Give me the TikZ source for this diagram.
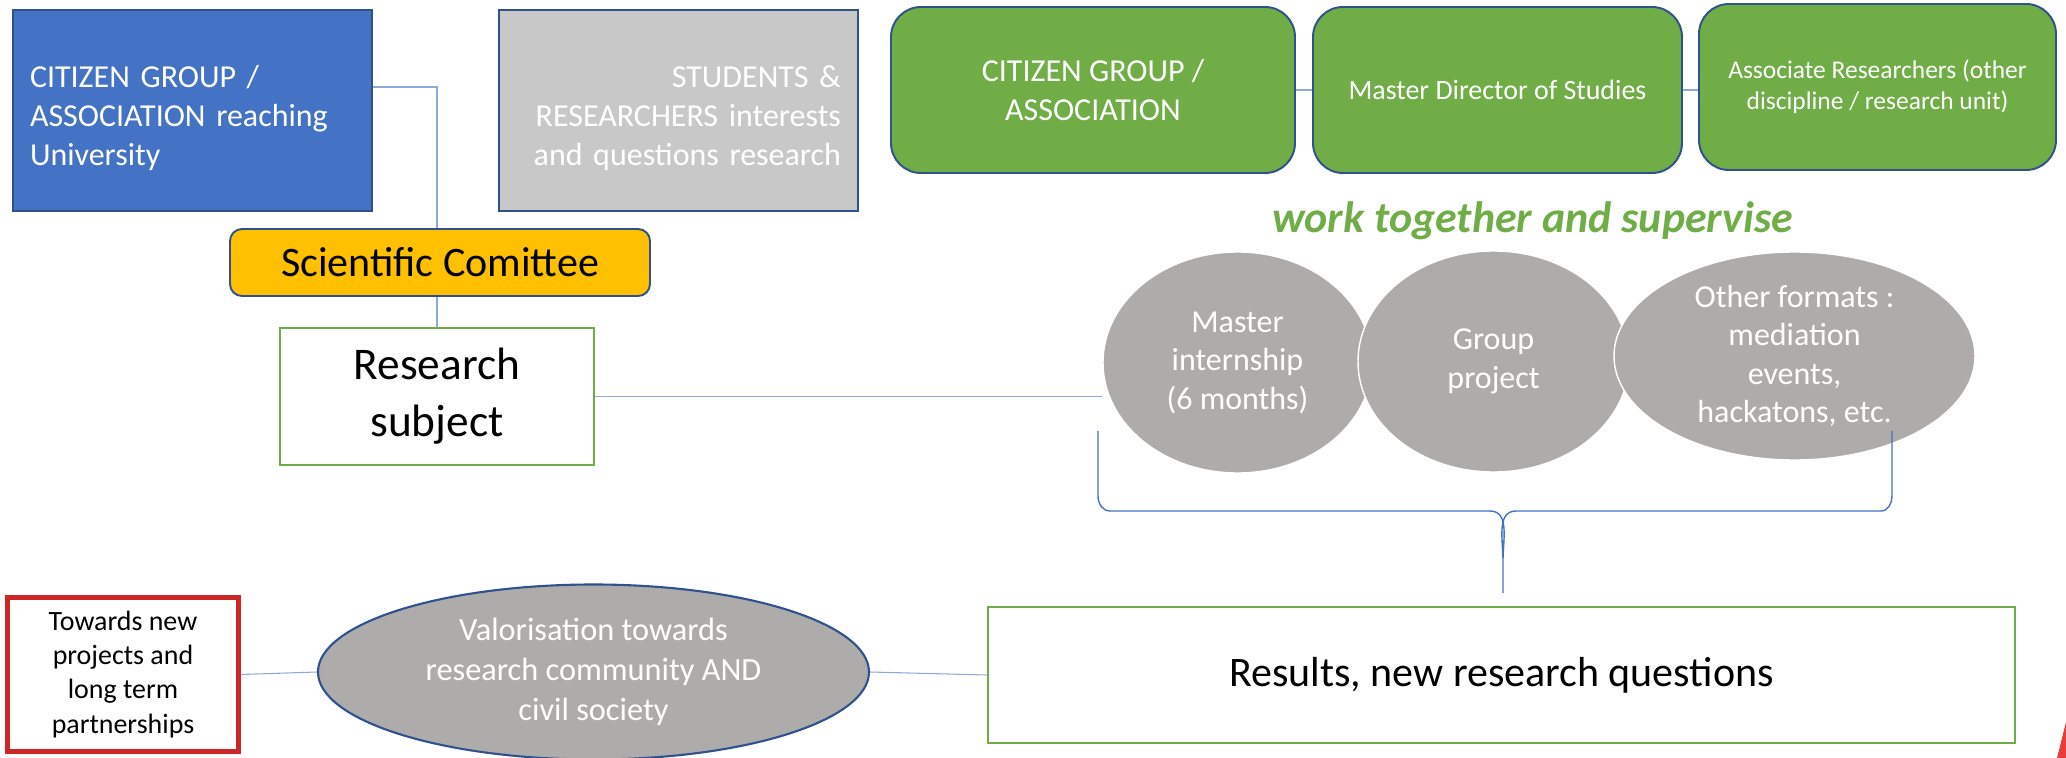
\documentclass[tikz,border=0pt]{standalone}
\usepackage{fontspec}
\setmainfont{Carlito}
\usepackage{tikz}
\usetikzlibrary{positioning,shapes.geometric}

\definecolor{bluefill}{HTML}{4472C4}
\definecolor{darkline}{HTML}{2F528F}
\definecolor{grayfill}{HTML}{C8C8C8}
\definecolor{greenfill}{HTML}{70AD47}
\definecolor{goldfill}{HTML}{FFC000}
\definecolor{ovalfill}{HTML}{AEABAB}
\definecolor{linkblue}{HTML}{8EA9DB}
\definecolor{redline}{HTML}{CC2626}
\definecolor{redmark}{HTML}{E83C3C}

\begin{document}
\begin{tikzpicture}[
    sqbox/.style={draw=darkline, line width=1.1pt, text=white, minimum height=4.02cm,
        inner xsep=0.34cm, text width=6.5cm, font=\fontsize{18.2}{22.2}\selectfont,
        execute at begin node={\rule{0pt}{0.74cm}}},
    greenbox/.style={draw=darkline, line width=1.1pt, fill=greenfill, text=white,
        rounded corners=0.6cm, minimum height=3.32cm, align=center},
    oval/.style={ellipse, fill=ovalfill, draw=white, line width=0.8pt, text=white,
        align=center, inner sep=0pt, font=\fontsize{18.2}{21.9}\selectfont},
    link/.style={draw=linkblue, line width=0.6pt}
]
    \useasboundingbox (0,0) rectangle (41.32,-15.16);

    % Top left boxes
    \node[sqbox, fill=bluefill, align=left] (citizen) at (3.85,-2.21)
        {CITIZEN GROUP /\\ASSOCIATION reaching\\University};
    \node[sqbox, fill=grayfill, align=right] (students) at (13.57,-2.21)
        {STUDENTS \&\\RESEARCHERS interests\\and questions research};

    % Green partners
    \node[greenbox, minimum width=8.08cm, font=\fontsize{18.2}{21.8}\selectfont] (group) at (21.86,-1.80)
        {CITIZEN GROUP /\\ASSOCIATION};
    \node[greenbox, minimum width=7.38cm, font=\fontsize{15.9}{19.4}\selectfont] (director) at (29.95,-1.80)
        {Master Director of Studies};
    \node[greenbox, minimum width=7.14cm, font=\fontsize{14.5}{17.5}\selectfont] (associates) at (37.55,-1.74)
        {Associate Researchers (other\\discipline / research unit)};
    \node[text=greenfill, font=\fontsize{25}{30}\selectfont\bfseries\itshape] (together) at (30.65,-4.42)
        {work together and supervise};

    % Committee and subject
    \node[draw=darkline, line width=1.1pt, fill=goldfill, rounded corners=0.24cm, minimum width=8.4cm,
        minimum height=1.34cm, font=\fontsize{23.9}{28}\selectfont] (committee) at (8.80,-5.25) {Scientific Comittee};
    \node[draw=greenfill, line width=1.1pt, fill=white, minimum width=6.28cm, minimum height=2.74cm,
        align=center, font=\fontsize{25.8}{32.4}\selectfont] (subject) at (8.74,-7.93) {Research\\subject};

    % Formats
    \node[oval, minimum width=5.38cm, minimum height=4.42cm] (internship) at (24.75,-7.25)
        {Master\\internship\\(6 months)};
    \node[oval, minimum width=5.42cm, minimum height=4.42cm] (project) at (29.87,-7.23)
        {Group\\project};
    \node[oval, minimum width=7.22cm, minimum height=4.16cm] (formats) at (35.89,-7.12)
        {Other formats :\\mediation\\events,\\hackatons, etc.};

    % Bottom row
    \node[draw=greenfill, line width=1.2pt, minimum width=20.54cm, minimum height=2.72cm,
        font=\fontsize{23.9}{28}\selectfont] (results) at (30.03,-13.5) {Results, new research questions};
    \node[ellipse, fill=ovalfill, draw=darkline, line width=1.2pt, text=white, align=center,
        minimum width=11.02cm, minimum height=3.5cm, inner sep=0pt,
        font=\fontsize{18.4}{22.8}\selectfont] (valorisation) at (11.87,-13.44)
        {Valorisation towards\\research community AND\\civil society};
    \node[draw=redline, line width=2.8pt, minimum width=4.62cm, minimum height=3.08cm, align=center,
        font=\fontsize{15.9}{19.4}\selectfont] (partners) at (2.46,-13.49)
        {Towards new\\projects and\\long term\\partnerships};

    % Connectors
    \draw[link] ([yshift=0.47cm]citizen.east) -| (committee.north -| subject.north);
    \draw[link] (committee.south -| subject.north) -- (subject.north);
    \draw[link] (subject.east) -- (subject.east -| internship.west);
    \draw[link] (group.east) -- (group.east -| director.west);
    \draw[link] (director.east) -- (director.east -| associates.west);
    \draw[link] (results.west) -- (valorisation.east);
    \draw[link] (valorisation.west) -- (partners.east);

    % Brace under the formats
    \draw[bluefill, line width=0.8pt] (21.96,-8.62) -- (21.96,-9.92) to[out=-90,in=180] (22.2,-10.22)
        -- (29.8,-10.22) to[out=0,in=90] (30.06,-11.2) -- (30.06,-11.86)
        -- (30.06,-11.2) to[out=90,in=180] (30.32,-10.22)
        -- (37.62,-10.22) to[out=0,in=-90] (37.84,-9.92) -- (37.84,-8.62);

    % Corner mark
    \fill[redmark] (41.14,-15.16) -- (41.32,-14.44) -- (41.32,-15.16) -- cycle;
\end{tikzpicture}
\end{document}
